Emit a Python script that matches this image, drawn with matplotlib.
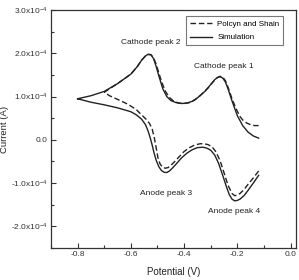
import matplotlib
matplotlib.use("Agg")
import matplotlib.pyplot as plt
from matplotlib.ticker import MultipleLocator, FuncFormatter

plt.rcParams['font.family'] = ['Liberation Sans', 'DejaVu Sans']
plt.rcParams['mathtext.fontset'] = 'custom'
plt.rcParams['mathtext.rm'] = 'Liberation Sans'
plt.rcParams['mathtext.it'] = 'Liberation Sans'

# simulation (solid), current in 1e-4 A
sim_up_v = [-0.80, -0.75, -0.70, -0.65, -0.60, -0.575, -0.56, -0.545, -0.535, -0.525,
            -0.515, -0.505, -0.495, -0.48, -0.465, -0.45, -0.43, -0.41, -0.39, -0.37,
            -0.35, -0.32, -0.30, -0.285, -0.275, -0.265, -0.255, -0.245, -0.235, -0.22,
            -0.20, -0.18, -0.16, -0.14, -0.12]
sim_up_i = [0.95, 1.02, 1.12, 1.30, 1.52, 1.70, 1.84, 1.94, 1.98, 1.97,
            1.88, 1.70, 1.48, 1.18, 1.00, 0.91, 0.86, 0.84, 0.85, 0.89,
            0.97, 1.13, 1.28, 1.39, 1.44, 1.46, 1.43, 1.34, 1.18, 0.90,
            0.56, 0.33, 0.18, 0.09, 0.04]
sim_dn_v = [-0.12, -0.14, -0.16, -0.175, -0.19, -0.20, -0.21, -0.22, -0.23, -0.24,
            -0.255, -0.27, -0.285, -0.30, -0.315, -0.33, -0.35, -0.37, -0.39, -0.41,
            -0.43, -0.445, -0.455, -0.465, -0.475, -0.485, -0.495, -0.505, -0.513, -0.52,
            -0.527, -0.535, -0.545, -0.56, -0.58, -0.60, -0.65, -0.70, -0.75, -0.80]
sim_dn_i = [-0.82, -1.00, -1.17, -1.29, -1.37, -1.40, -1.41, -1.37, -1.27, -1.10,
            -0.82, -0.55, -0.35, -0.24, -0.19, -0.17, -0.18, -0.23, -0.31, -0.42,
            -0.56, -0.66, -0.72, -0.755, -0.75, -0.71, -0.62, -0.47, -0.30, -0.12,
            0.04, 0.20, 0.35, 0.48, 0.58, 0.65, 0.74, 0.81, 0.87, 0.95]

# Polcyn and Shain (dashed)
exp_up_v = [-0.70, -0.65, -0.60, -0.575, -0.56, -0.545, -0.535, -0.525, -0.515, -0.505,
            -0.495, -0.485, -0.47, -0.455, -0.44, -0.42, -0.40, -0.38, -0.36, -0.34,
            -0.31, -0.29, -0.275, -0.265, -0.255, -0.245, -0.235, -0.22, -0.205, -0.19,
            -0.18, -0.165, -0.15, -0.135, -0.12]
exp_up_i = [1.10, 1.30, 1.52, 1.70, 1.84, 1.94, 1.97, 1.97, 1.90, 1.75,
            1.55, 1.35, 1.12, 0.98, 0.90, 0.85, 0.84, 0.86, 0.92, 1.02,
            1.20, 1.35, 1.44, 1.47, 1.45, 1.37, 1.22, 0.95, 0.72, 0.54,
            0.46, 0.39, 0.35, 0.33, 0.33]
exp_dn_v = [-0.12, -0.14, -0.16, -0.175, -0.19, -0.20, -0.21, -0.22, -0.235, -0.25,
            -0.265, -0.28, -0.295, -0.31, -0.325, -0.34, -0.36, -0.38, -0.40, -0.42,
            -0.435, -0.45, -0.46, -0.47, -0.48, -0.49, -0.498, -0.505, -0.512, -0.52,
            -0.53, -0.545, -0.56, -0.58, -0.61, -0.648, -0.68, -0.70]
exp_dn_i = [-0.72, -0.88, -1.03, -1.15, -1.24, -1.28, -1.29, -1.24, -1.05, -0.76,
            -0.48, -0.28, -0.16, -0.11, -0.09, -0.09, -0.12, -0.18, -0.27, -0.40,
            -0.50, -0.59, -0.64, -0.655, -0.64, -0.56, -0.42, -0.18, 0.05, 0.25,
            0.38, 0.49, 0.58, 0.70, 0.82, 0.93, 1.02, 1.10]

peak_labels = ["Cathode peak 2", "Cathode peak 1", "Anode peak 3", "Anode peak 4"]
peak_v = [-0.524, -0.25, -0.469, -0.214]
peak_i = [2.25, 1.70, -1.25, -1.65]

scale = 1e-4
fig = plt.figure(figsize=(2.99, 2.80), dpi=100)
ax = fig.add_axes([0.1706, 0.1143, 0.819, 0.8497])

col = '#222222'
nan = float('nan')
ax.plot(exp_up_v + [nan] + exp_dn_v,
        [v * scale for v in exp_up_i] + [nan] + [v * scale for v in exp_dn_i],
        color=col, lw=1.0, dashes=(4, 2), label='Polcyn and Shain')
ax.plot(sim_up_v + [nan] + sim_dn_v,
        [v * scale for v in sim_up_i] + [nan] + [v * scale for v in sim_dn_i],
        color=col, lw=1.0, label='Simulation')

for t, x, y in zip(peak_labels, peak_v, peak_i):
    ax.text(x, y * scale, t, fontsize=6.0, ha='center', va='center', color='#222222')

ax.set_xlim(-0.9, 0.02)
ax.set_ylim(-2.5e-4, 3.0e-4)
ax.xaxis.set_major_locator(MultipleLocator(0.2))
ax.xaxis.set_minor_locator(MultipleLocator(0.1))
ax.yaxis.set_major_locator(MultipleLocator(1e-4))
ax.yaxis.set_minor_locator(MultipleLocator(0.5e-4))


def yfmt(v, pos):
    n = round(v / 1e-4, 1)
    if abs(n) < 1e-9:
        return "0.0"
    return f"{n:.1f}x10$^{{-4}}$"


ax.yaxis.set_major_formatter(FuncFormatter(yfmt))
ax.xaxis.set_major_formatter(FuncFormatter(lambda v, p: f"{v:.1f}" if abs(v) > 1e-9 else "0.0"))

ax.tick_params(which='both', direction='in', labelsize=6.0, colors='#333333', width=0.8)
ax.tick_params(which='major', length=3.5, pad=2.5)
ax.tick_params(which='minor', length=2)
for s in ax.spines.values():
    s.set_color('#333333')
    s.set_linewidth(0.9)

ax.set_xlabel("Potential (V)", fontsize=7, color='#222222', labelpad=6)
ax.set_ylabel("Current (A)", fontsize=6.8, color='#222222')
ax.yaxis.set_label_coords(-0.172, 0.5)

leg = ax.legend(loc='upper right', fontsize=5.8, frameon=True, fancybox=False,
                handlelength=2.8, borderpad=0.5, labelspacing=0.7,
                bbox_to_anchor=(0.965, 0.99), handletextpad=0.6)
leg.get_frame().set_edgecolor('#555555')
leg.get_frame().set_linewidth(0.8)

fig.savefig("out.png", dpi=100)
